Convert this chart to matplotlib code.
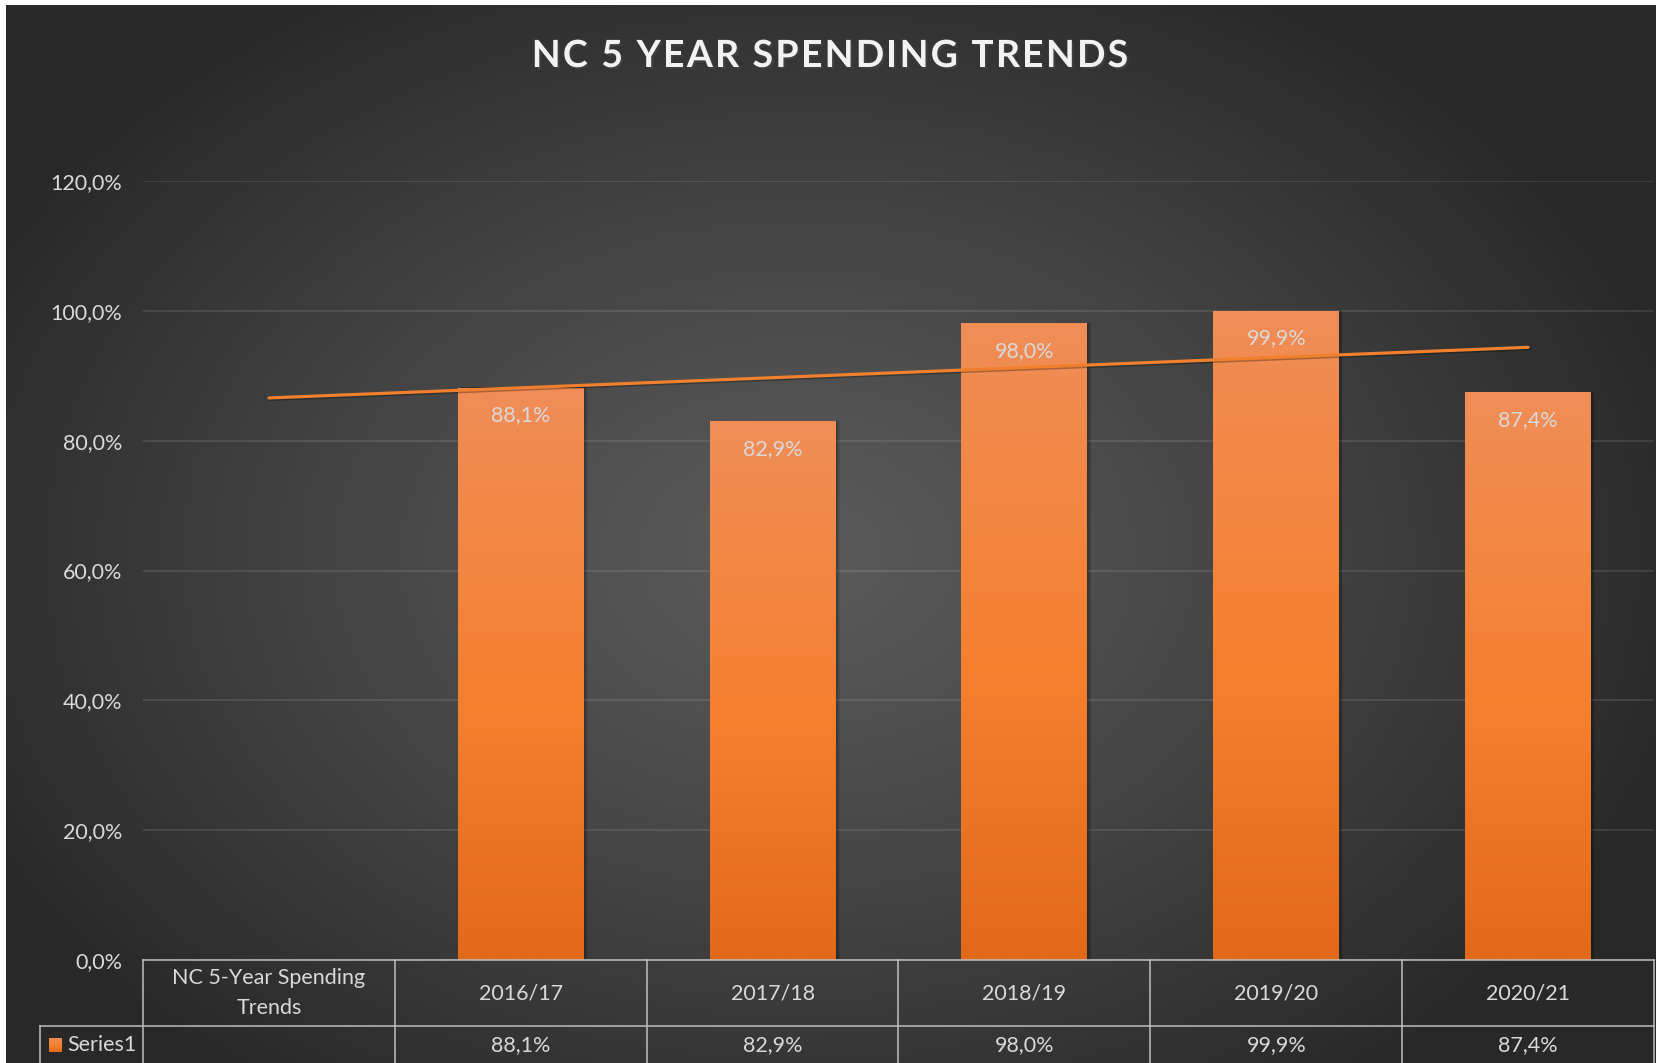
import matplotlib.pyplot as plt
import numpy as np
from matplotlib import ticker, transforms
from matplotlib.colors import LinearSegmentedColormap
from matplotlib.font_manager import FontProperties
from matplotlib.lines import Line2D
from matplotlib.patches import Rectangle
import matplotlib.patheffects as pe

# Data
categories = ["NC 5-Year Spending\nTrends", "2016/17", "2017/18", "2018/19", "2019/20", "2020/21"]
values = [np.nan, 88.1, 82.9, 98.0, 99.9, 87.4]
series_name = "Series1"
title = "NC 5 YEAR SPENDING TRENDS"
y_ticks = [0, 20, 40, 60, 80, 100, 120]

W, H = 1663, 1063
FONT = "Lato"
FS = 15.5
TEXT_COLOUR = "#D9D9D9"
LINE_COLOUR = "#BFBFBF"
TREND_COLOUR = "#F07F2E"

plt.rcParams["font.family"] = [FONT, "DejaVu Sans"]

bar_cmap = LinearSegmentedColormap.from_list(
  "bar", [(0.0, "#E2691A"), (0.45, "#F5802E"), (1.0, "#F08D57")])

def pct(v):
  return f"{v:.1f}%".replace(".", ",")

fig = plt.figure(figsize=(W / 100, H / 100), dpi=100)
fig.patch.set_facecolor("white")

# Radial grey background inside a thin white frame
bg = fig.add_axes([6 / W, 0, (1656 - 6) / W, 1 - 5 / H])
bg.set_axis_off()
yy, xx = np.mgrid[0:1:300j, 0:1:470j]
r = np.sqrt(((xx - 0.48) / 0.8) ** 2 + ((yy - 0.52) / 0.9) ** 2) / 0.7
grey = np.clip(90 - 50 * np.clip(r, 0, 1) ** 1.2, 0, 255) / 255
bg.imshow(np.dstack([grey, grey, grey]), extent=[0, 1, 0, 1], aspect="auto", origin="upper")
bg.set_xlim(0, 1)
bg.set_ylim(0, 1)

ax = fig.add_axes([143 / W, 1 - 960 / H, (1654 - 143) / W, (960 - 181) / H])
ax.set_facecolor("none")
for s in ax.spines.values():
  s.set_visible(False)

x = np.arange(len(categories))
vals = np.array(values, dtype=float)
bar_width = 0.5
bars = ax.bar(x, np.nan_to_num(vals), width=bar_width, color="none", zorder=3)

grad = np.linspace(1, 0, 256).reshape(-1, 1)
for rect, v in zip(bars, vals):
  if np.isnan(v):
    continue
  x0 = rect.get_x()
  # soft shadow to the right of each bar
  for k in range(5):
    ax.add_patch(Rectangle((x0 + 0.004 + 0.003 * k, 0), bar_width, v + 0.15,
                           facecolor="black", alpha=0.07, linewidth=0, zorder=2))
  ax.imshow(grad, cmap=bar_cmap, extent=[x0, x0 + bar_width, 0, v], aspect="auto",
            vmin=0, vmax=1, zorder=3)
  ax.annotate(pct(v), (rect.get_x() + bar_width / 2, v), xytext=(0, -19.5),
              textcoords="offset points", ha="center", va="center",
              fontsize=FS, color=TEXT_COLOUR, zorder=5)

# Linear trendline over the valid points (as Excel does)
valid = ~np.isnan(vals)
slope, intercept = np.polyfit(x[valid], vals[valid], 1)
tx = np.array([x[0], x[-1]])
ax.plot(tx, slope * tx + intercept, color=TREND_COLOUR, linewidth=2.3, zorder=4,
        solid_capstyle="round",
        path_effects=[pe.SimpleLineShadow(offset=(1, -1), alpha=0.3), pe.Normal()])

ax.set_xlim(-0.5, len(categories) - 0.5)
ax.set_ylim(0, 120)
ax.set_yticks(y_ticks)
ax.yaxis.set_major_formatter(ticker.FuncFormatter(lambda v, _: pct(v)))
ax.tick_params(axis="y", length=0, pad=15, labelsize=FS, labelcolor=TEXT_COLOUR)
ax.set_xticks([])
ax.grid(axis="y", color="white", alpha=0.1, linewidth=1.5, zorder=1)
ax.set_axisbelow(True)

# Data table under the axis
tr = transforms.blended_transform_factory(ax.transData, fig.transFigure)
row_top = 1 - 960 / H
row_mid = 1 - 1026 / H
legend_left = 40 / W
edges = np.arange(len(categories) + 1) - 0.5

def tline(xs, ys, transform):
  fig.add_artist(Line2D(xs, ys, transform=transform, color=LINE_COLOUR, linewidth=1.1, zorder=6))

tline([edges[0], edges[-1]], [row_top, row_top], tr)
for e in edges:
  tline([e, e], [0, row_top], tr)
tline([legend_left, ax.get_position().x1], [row_mid, row_mid], fig.transFigure)
tline([legend_left, legend_left], [0, row_mid], fig.transFigure)

head_y = 1 - 993 / H
val_y = 1 - 1045 / H
for i, cat in enumerate(categories):
  fig.text(x[i], head_y, cat, transform=tr, ha="center", va="center",
           fontsize=FS, color=TEXT_COLOUR, linespacing=1.62)
  if not np.isnan(vals[i]):
    fig.text(x[i], val_y, pct(vals[i]), transform=tr, ha="center", va="center",
             fontsize=FS, color=TEXT_COLOUR)

# Legend key in the table's second row
key = fig.add_axes([49 / W, 1 - 1052 / H, 13 / W, 14 / H])
key.imshow(grad, cmap=bar_cmap, aspect="auto", vmin=0, vmax=1)
key.set_axis_off()
fig.text(67 / W, val_y, series_name, ha="left", va="center", fontsize=FS, color=TEXT_COLOUR)

# Title with extra letter spacing, laid out one character at a time
title_fp = FontProperties(family=FONT, weight="bold", size=27)
renderer = fig.canvas.get_renderer()
spacing = 2.2  # px between letters

def prefix_width(s):
  if not s:
    return 0.0
  return renderer.get_text_width_height_descent(s, title_fp, ismath=False)[0]

offsets = [prefix_width(title[:i]) + spacing * i for i in range(len(title))]
total = prefix_width(title) + spacing * (len(title) - 1)
start = 830 - total / 2
shadow = [pe.withSimplePatchShadow(offset=(1.5, -1.5), alpha=0.5)]
for ch, off in zip(title, offsets):
  if ch == " ":
    continue
  fig.text((start + off) / W, 1 - 56 / H, ch, ha="left", va="center",
           fontproperties=title_fp, color="#F2F2F2", path_effects=shadow)

fig.savefig("out.png", dpi=100, facecolor=fig.get_facecolor())
